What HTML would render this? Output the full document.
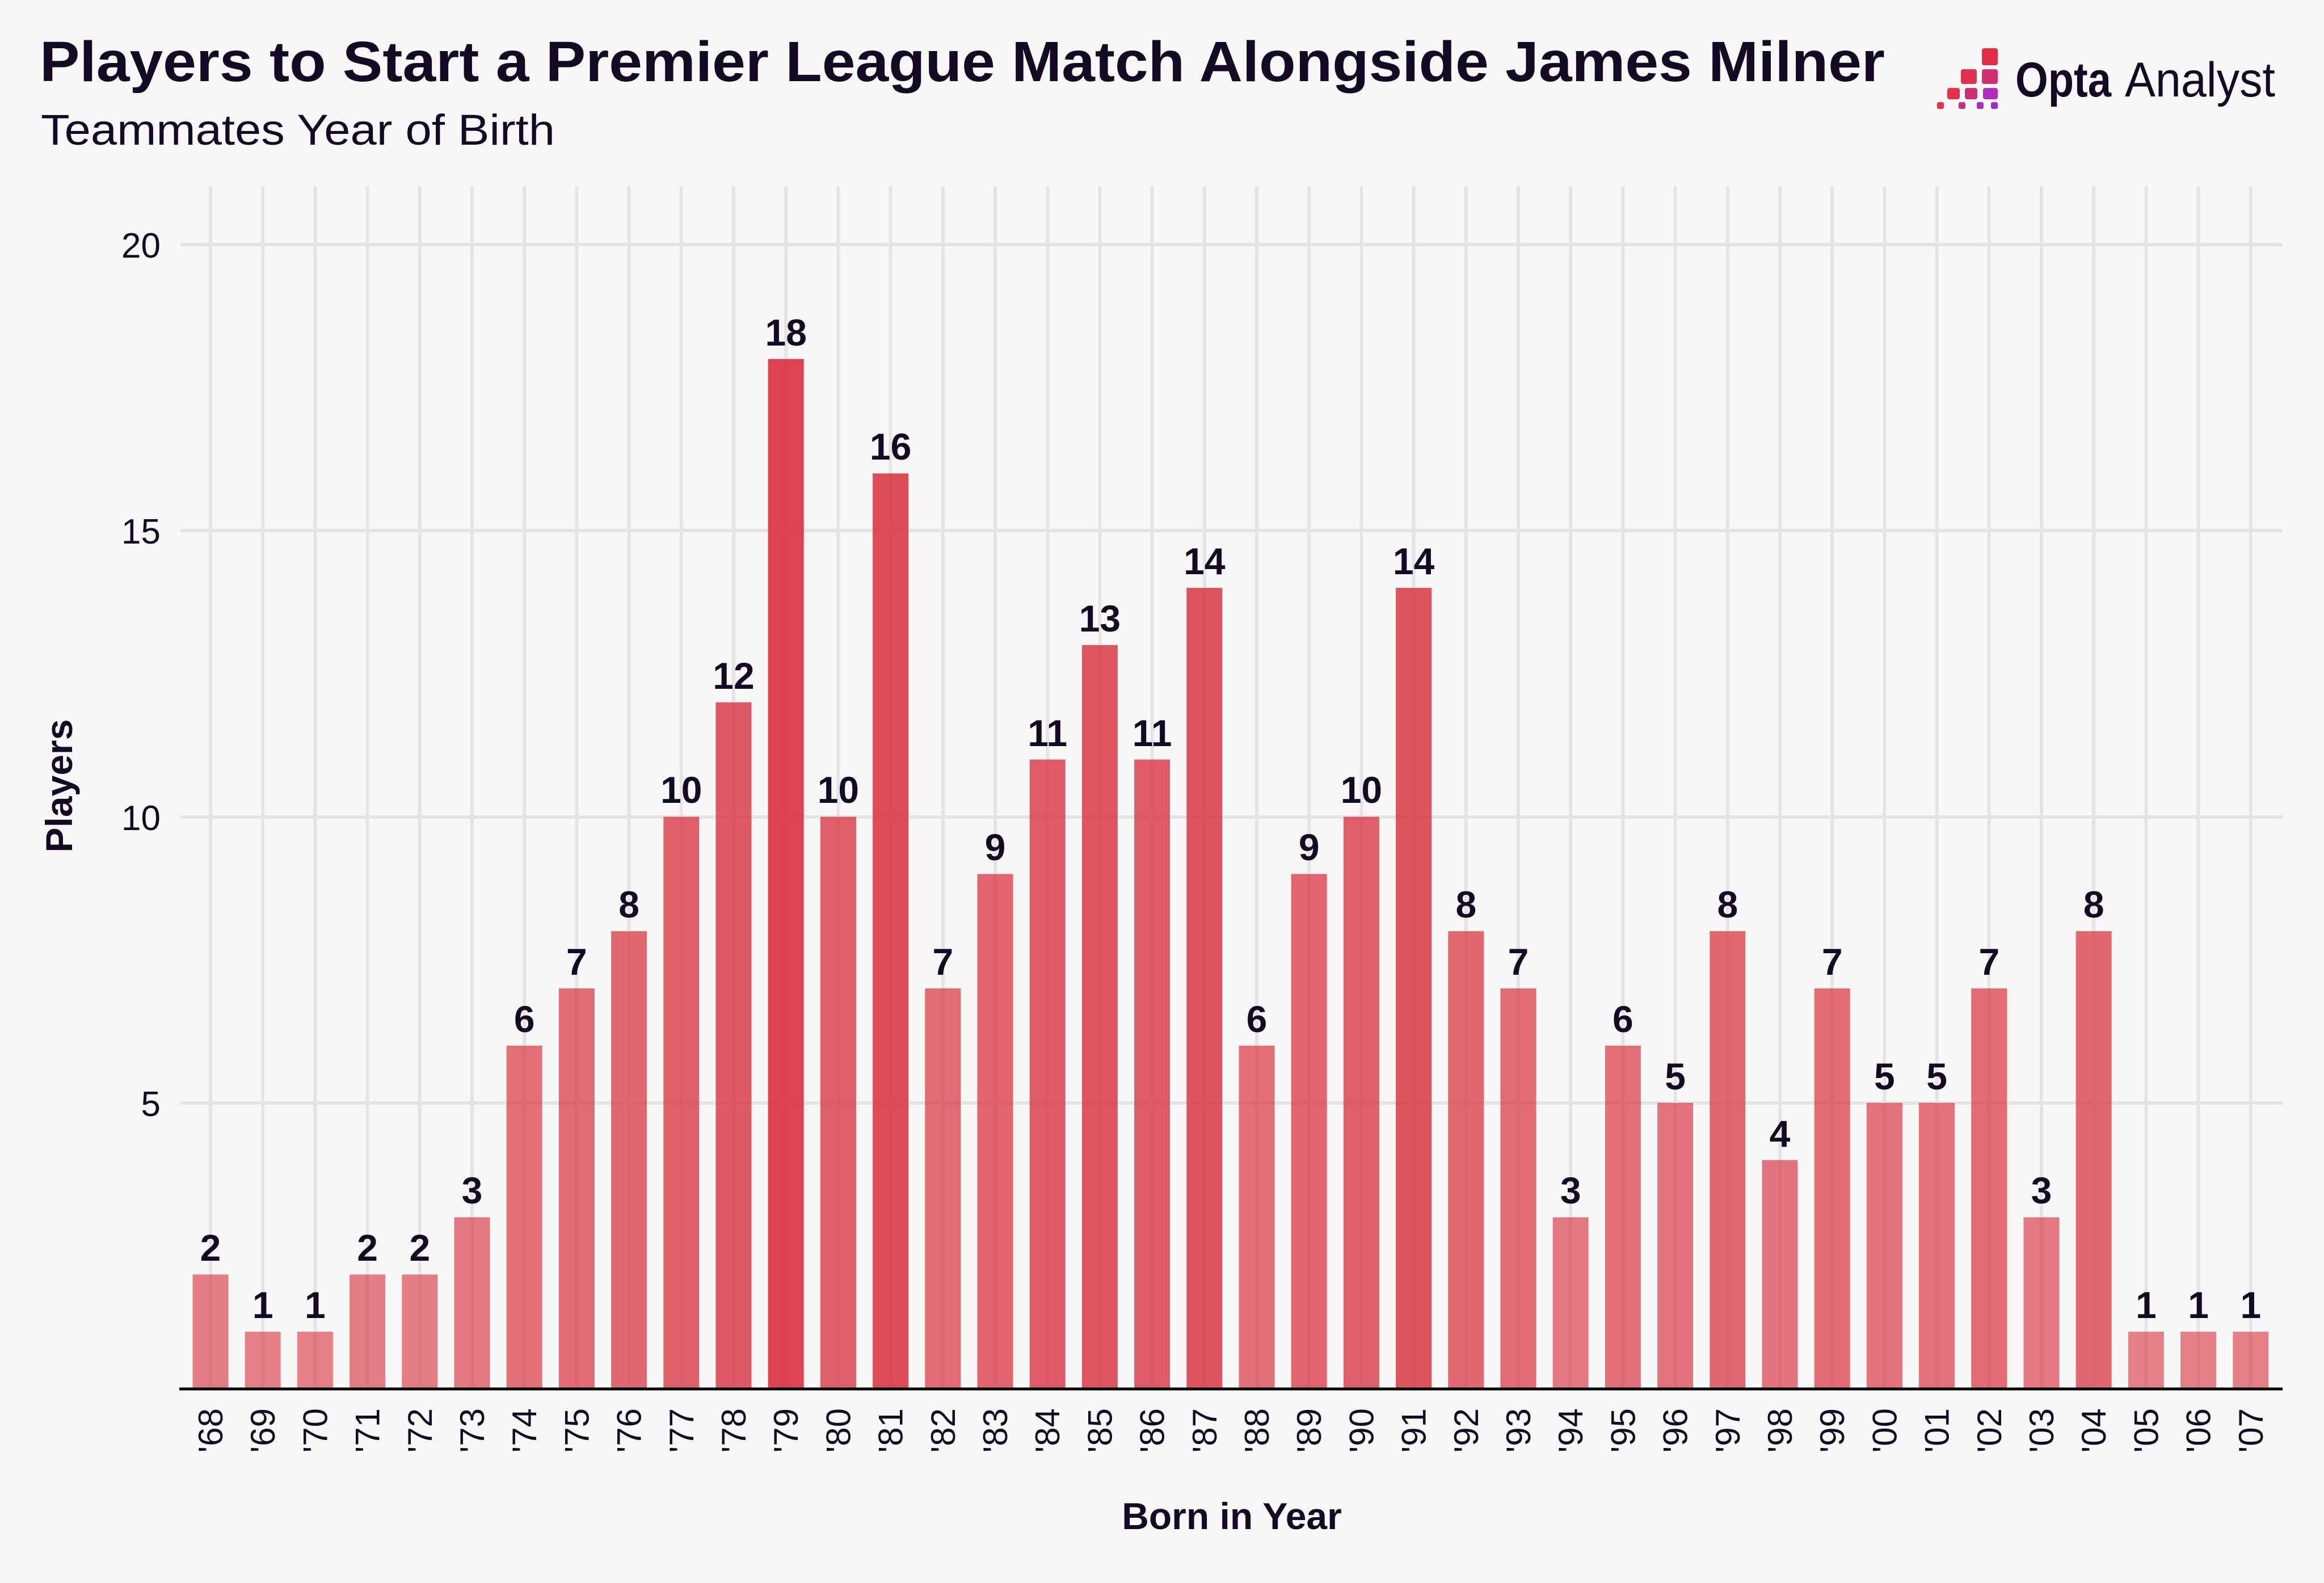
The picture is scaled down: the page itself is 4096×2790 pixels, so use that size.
<!DOCTYPE html>
<html><head><meta charset="utf-8"><style>html,body{margin:0;padding:0;background:#f7f7f7}</style></head>
<body>
<svg xmlns="http://www.w3.org/2000/svg" width="4096" height="2785" viewBox="0 0 4096 2785" font-family="Liberation Sans, sans-serif">
<rect width="4096" height="2785" fill="#f7f7f7"/>
<text x="70" y="143" font-size="100" font-weight="bold" fill="#140a23" textLength="3252" lengthAdjust="spacingAndGlyphs">Players to Start a Premier League Match Alongside James Milner</text>
<text x="72" y="255" font-size="76" fill="#140a23" textLength="906" lengthAdjust="spacingAndGlyphs">Teammates Year of Birth</text>
<g>
<rect x="3493" y="85" width="28" height="30" rx="4" fill="#e42c46"/>
<rect x="3456" y="122" width="28" height="26" rx="4" fill="#e23050"/>
<rect x="3493" y="122" width="28" height="26" rx="4" fill="#d03070"/>
<rect x="3432" y="155" width="22" height="20" rx="4" fill="#e43048"/>
<rect x="3463" y="155" width="22" height="20" rx="4" fill="#c83078"/>
<rect x="3495" y="155" width="26" height="20" rx="4" fill="#b02cc0"/>
<rect x="3414" y="180" width="12" height="12" rx="3" fill="#e43048"/>
<rect x="3452" y="180" width="12" height="12" rx="3" fill="#c83080"/>
<rect x="3484" y="180" width="12" height="12" rx="3" fill="#b02cc0"/>
<rect x="3509" y="180" width="12" height="12" rx="3" fill="#9a30c8"/>
<text x="3552" y="170" font-size="86" font-weight="bold" fill="#140a23" textLength="169" lengthAdjust="spacingAndGlyphs">Opta</text>
<text x="3745" y="170" font-size="86" fill="#140a23" textLength="265" lengthAdjust="spacingAndGlyphs">Analyst</text>
</g>
<g stroke="#e4e4e4" stroke-width="6">
<line x1="318" x2="4023" y1="1944" y2="1944"/>
<line x1="318" x2="4023" y1="1440" y2="1440"/>
<line x1="318" x2="4023" y1="935" y2="935"/>
<line x1="318" x2="4023" y1="431" y2="431"/>
<path fill="none" d="M371 328V2448M463.2 328V2448M555.4 328V2448M647.6 328V2448M739.8 328V2448M832 328V2448M924.2 328V2448M1016.4 328V2448M1108.6 328V2448M1200.8 328V2448M1293 328V2448M1385.2 328V2448M1477.4 328V2448M1569.6 328V2448M1661.8 328V2448M1754 328V2448M1846.2 328V2448M1938.4 328V2448M2030.6 328V2448M2122.8 328V2448M2215 328V2448M2307.2 328V2448M2399.4 328V2448M2491.6 328V2448M2583.8 328V2448M2676 328V2448M2768.2 328V2448M2860.4 328V2448M2952.6 328V2448M3044.8 328V2448M3137 328V2448M3229.2 328V2448M3321.4 328V2448M3413.6 328V2448M3505.8 328V2448M3598 328V2448M3690.2 328V2448M3782.4 328V2448M3874.6 328V2448M3966.8 328V2448"/>
</g>
<g font-size="62" text-anchor="end" fill="#140a23">
<text x="283" y="1967">5</text><text x="283" y="1463">10</text><text x="283" y="958">15</text><text x="283" y="454">20</text>
</g>
<g fill="#d9303e">
<rect x="339.5" y="2246.3" width="63" height="201.7" fill-opacity="0.618"/>
<rect x="431.7" y="2347.15" width="63" height="100.85" fill-opacity="0.6"/>
<rect x="523.9" y="2347.15" width="63" height="100.85" fill-opacity="0.6"/>
<rect x="616.1" y="2246.3" width="63" height="201.7" fill-opacity="0.618"/>
<rect x="708.3" y="2246.3" width="63" height="201.7" fill-opacity="0.618"/>
<rect x="800.5" y="2145.45" width="63" height="302.55" fill-opacity="0.635"/>
<rect x="892.7" y="1842.9" width="63" height="605.1" fill-opacity="0.688"/>
<rect x="984.9" y="1742.05" width="63" height="705.95" fill-opacity="0.706"/>
<rect x="1077.1" y="1641.2" width="63" height="806.8" fill-opacity="0.724"/>
<rect x="1169.3" y="1439.5" width="63" height="1008.5" fill-opacity="0.759"/>
<rect x="1261.5" y="1237.8" width="63" height="1210.2" fill-opacity="0.794"/>
<rect x="1353.7" y="632.7" width="63" height="1815.3" fill-opacity="0.9"/>
<rect x="1445.9" y="1439.5" width="63" height="1008.5" fill-opacity="0.759"/>
<rect x="1538.1" y="834.4" width="63" height="1613.6" fill-opacity="0.865"/>
<rect x="1630.3" y="1742.05" width="63" height="705.95" fill-opacity="0.706"/>
<rect x="1722.5" y="1540.35" width="63" height="907.65" fill-opacity="0.741"/>
<rect x="1814.7" y="1338.65" width="63" height="1109.35" fill-opacity="0.776"/>
<rect x="1906.9" y="1136.95" width="63" height="1311.05" fill-opacity="0.812"/>
<rect x="1999.1" y="1338.65" width="63" height="1109.35" fill-opacity="0.776"/>
<rect x="2091.3" y="1036.1" width="63" height="1411.9" fill-opacity="0.829"/>
<rect x="2183.5" y="1842.9" width="63" height="605.1" fill-opacity="0.688"/>
<rect x="2275.7" y="1540.35" width="63" height="907.65" fill-opacity="0.741"/>
<rect x="2367.9" y="1439.5" width="63" height="1008.5" fill-opacity="0.759"/>
<rect x="2460.1" y="1036.1" width="63" height="1411.9" fill-opacity="0.829"/>
<rect x="2552.3" y="1641.2" width="63" height="806.8" fill-opacity="0.724"/>
<rect x="2644.5" y="1742.05" width="63" height="705.95" fill-opacity="0.706"/>
<rect x="2736.7" y="2145.45" width="63" height="302.55" fill-opacity="0.635"/>
<rect x="2828.9" y="1842.9" width="63" height="605.1" fill-opacity="0.688"/>
<rect x="2921.1" y="1943.75" width="63" height="504.25" fill-opacity="0.671"/>
<rect x="3013.3" y="1641.2" width="63" height="806.8" fill-opacity="0.724"/>
<rect x="3105.5" y="2044.6" width="63" height="403.4" fill-opacity="0.653"/>
<rect x="3197.7" y="1742.05" width="63" height="705.95" fill-opacity="0.706"/>
<rect x="3289.9" y="1943.75" width="63" height="504.25" fill-opacity="0.671"/>
<rect x="3382.1" y="1943.75" width="63" height="504.25" fill-opacity="0.671"/>
<rect x="3474.3" y="1742.05" width="63" height="705.95" fill-opacity="0.706"/>
<rect x="3566.5" y="2145.45" width="63" height="302.55" fill-opacity="0.635"/>
<rect x="3658.7" y="1641.2" width="63" height="806.8" fill-opacity="0.724"/>
<rect x="3750.9" y="2347.15" width="63" height="100.85" fill-opacity="0.6"/>
<rect x="3843.1" y="2347.15" width="63" height="100.85" fill-opacity="0.6"/>
<rect x="3935.3" y="2347.15" width="63" height="100.85" fill-opacity="0.6"/>
</g>
<g font-size="66" font-weight="bold" text-anchor="middle" fill="#140a23">
<text x="371" y="2222">2</text>
<text x="463.2" y="2323">1</text>
<text x="555.4" y="2323">1</text>
<text x="647.6" y="2222">2</text>
<text x="739.8" y="2222">2</text>
<text x="832" y="2121">3</text>
<text x="924.2" y="1819">6</text>
<text x="1016.4" y="1718">7</text>
<text x="1108.6" y="1617">8</text>
<text x="1200.8" y="1415">10</text>
<text x="1293" y="1214">12</text>
<text x="1385.2" y="609">18</text>
<text x="1477.4" y="1415">10</text>
<text x="1569.6" y="810">16</text>
<text x="1661.8" y="1718">7</text>
<text x="1754" y="1516">9</text>
<text x="1846.2" y="1315">11</text>
<text x="1938.4" y="1113">13</text>
<text x="2030.6" y="1315">11</text>
<text x="2122.8" y="1012">14</text>
<text x="2215" y="1819">6</text>
<text x="2307.2" y="1516">9</text>
<text x="2399.4" y="1415">10</text>
<text x="2491.6" y="1012">14</text>
<text x="2583.8" y="1617">8</text>
<text x="2676" y="1718">7</text>
<text x="2768.2" y="2121">3</text>
<text x="2860.4" y="1819">6</text>
<text x="2952.6" y="1920">5</text>
<text x="3044.8" y="1617">8</text>
<text x="3137" y="2021">4</text>
<text x="3229.2" y="1718">7</text>
<text x="3321.4" y="1920">5</text>
<text x="3413.6" y="1920">5</text>
<text x="3505.8" y="1718">7</text>
<text x="3598" y="2121">3</text>
<text x="3690.2" y="1617">8</text>
<text x="3782.4" y="2323">1</text>
<text x="3874.6" y="2323">1</text>
<text x="3966.8" y="2323">1</text>
</g>
<g font-size="60" text-anchor="end" fill="#140a23">
<text transform="translate(392,2482) rotate(-90)">'68</text>
<text transform="translate(484.2,2482) rotate(-90)">'69</text>
<text transform="translate(576.4,2482) rotate(-90)">'70</text>
<text transform="translate(668.6,2482) rotate(-90)">'71</text>
<text transform="translate(760.8,2482) rotate(-90)">'72</text>
<text transform="translate(853,2482) rotate(-90)">'73</text>
<text transform="translate(945.2,2482) rotate(-90)">'74</text>
<text transform="translate(1037.4,2482) rotate(-90)">'75</text>
<text transform="translate(1129.6,2482) rotate(-90)">'76</text>
<text transform="translate(1221.8,2482) rotate(-90)">'77</text>
<text transform="translate(1314,2482) rotate(-90)">'78</text>
<text transform="translate(1406.2,2482) rotate(-90)">'79</text>
<text transform="translate(1498.4,2482) rotate(-90)">'80</text>
<text transform="translate(1590.6,2482) rotate(-90)">'81</text>
<text transform="translate(1682.8,2482) rotate(-90)">'82</text>
<text transform="translate(1775,2482) rotate(-90)">'83</text>
<text transform="translate(1867.2,2482) rotate(-90)">'84</text>
<text transform="translate(1959.4,2482) rotate(-90)">'85</text>
<text transform="translate(2051.6,2482) rotate(-90)">'86</text>
<text transform="translate(2143.8,2482) rotate(-90)">'87</text>
<text transform="translate(2236,2482) rotate(-90)">'88</text>
<text transform="translate(2328.2,2482) rotate(-90)">'89</text>
<text transform="translate(2420.4,2482) rotate(-90)">'90</text>
<text transform="translate(2512.6,2482) rotate(-90)">'91</text>
<text transform="translate(2604.8,2482) rotate(-90)">'92</text>
<text transform="translate(2697,2482) rotate(-90)">'93</text>
<text transform="translate(2789.2,2482) rotate(-90)">'94</text>
<text transform="translate(2881.4,2482) rotate(-90)">'95</text>
<text transform="translate(2973.6,2482) rotate(-90)">'96</text>
<text transform="translate(3065.8,2482) rotate(-90)">'97</text>
<text transform="translate(3158,2482) rotate(-90)">'98</text>
<text transform="translate(3250.2,2482) rotate(-90)">'99</text>
<text transform="translate(3342.4,2482) rotate(-90)">'00</text>
<text transform="translate(3434.6,2482) rotate(-90)">'01</text>
<text transform="translate(3526.8,2482) rotate(-90)">'02</text>
<text transform="translate(3619,2482) rotate(-90)">'03</text>
<text transform="translate(3711.2,2482) rotate(-90)">'04</text>
<text transform="translate(3803.4,2482) rotate(-90)">'05</text>
<text transform="translate(3895.6,2482) rotate(-90)">'06</text>
<text transform="translate(3987.8,2482) rotate(-90)">'07</text>
</g>
<line x1="316" x2="4023" y1="2448" y2="2448" stroke="#000" stroke-width="5"/>
<text transform="translate(127,1385) rotate(-90)" font-size="66" font-weight="bold" text-anchor="middle" fill="#140a23">Players</text>
<text x="2171" y="2695" font-size="66" font-weight="bold" text-anchor="middle" fill="#140a23">Born in Year</text>
</svg>
</body></html>
